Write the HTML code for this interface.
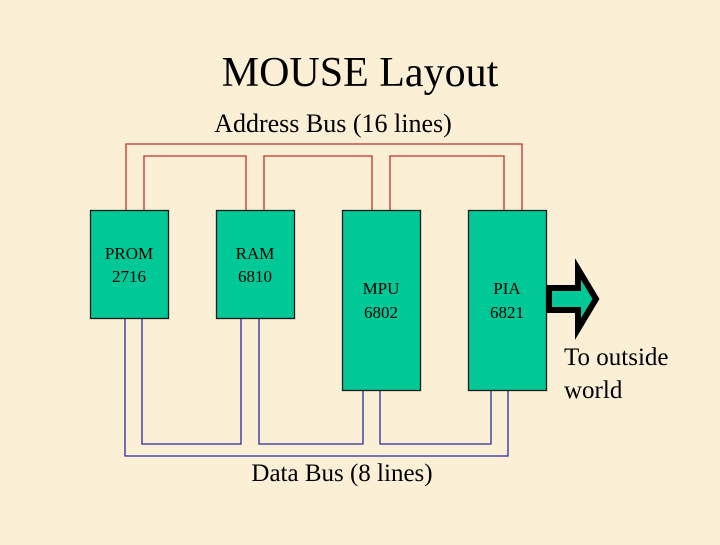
<!DOCTYPE html>
<html><head><meta charset="utf-8"><style>
html,body{margin:0;padding:0;}
body{width:720px;height:540px;background:#fbefd6;overflow:hidden;}
svg text{font-family:"Liberation Serif",serif;fill:#000;}
</style></head><body>
<svg width="720" height="540" viewBox="0 0 720 540" xmlns="http://www.w3.org/2000/svg">
<rect width="720" height="540" fill="#fbefd6"/>
<text x="360" y="86" font-size="42" text-anchor="middle">MOUSE Layout</text>
<text x="333" y="132" font-size="26" text-anchor="middle">Address Bus (16 lines)</text>
<g fill="none" stroke="#c0302a" stroke-width="1.3">
<polyline points="126,210 126,144 522,144 522,210"/>
<polyline points="144,210 144,156 246,156 246,210"/>
<polyline points="264,210 264,156 372,156 372,210"/>
<polyline points="390,210 390,156 504,156 504,210"/>
</g>
<g fill="none" stroke="#2a2aa0" stroke-width="1.3">
<polyline points="125,318 125,456 508,456 508,390"/>
<polyline points="142,318 142,444 241,444 241,318"/>
<polyline points="259,318 259,444 363,444 363,390"/>
<polyline points="380,390 380,444 491,444 491,390"/>
</g>
<g fill="#00c896" stroke="#1a1a1a" stroke-width="1.3">
<rect x="90.5" y="210.5" width="78" height="108"/>
<rect x="216.5" y="210.5" width="78" height="108"/>
<rect x="342.5" y="210.5" width="78" height="180"/>
<rect x="468.5" y="210.5" width="78" height="180"/>
</g>
<g font-size="17" text-anchor="middle">
<text x="129" y="259">PROM</text><text x="129" y="282">2716</text>
<text x="255" y="259">RAM</text><text x="255" y="282">6810</text>
<text x="381" y="294">MPU</text><text x="381" y="318">6802</text>
<text x="507" y="294">PIA</text><text x="507" y="318">6821</text>
</g>
<polygon points="549,288 578,288 578,269 596,299 578,329 578,310 549,310" fill="#00c896" stroke="#000" stroke-width="6" stroke-linejoin="miter"/>
<text x="564" y="365" font-size="25">To outside</text>
<text x="564" y="398" font-size="25">world</text>
<text x="342" y="481" font-size="25" text-anchor="middle">Data Bus (8 lines)</text>
</svg>
</body></html>
